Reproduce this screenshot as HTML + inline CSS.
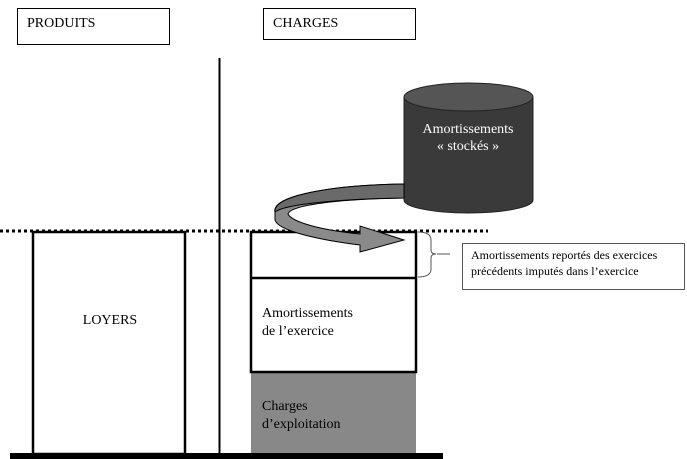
<!DOCTYPE html>
<html><head><style>
body{margin:0;background:#fff;}
svg{display:block;font-family:"Liberation Serif",serif;}
</style></head><body>
<svg width="687" height="459" viewBox="0 0 687 459">
<rect x="17.5" y="8.5" width="152" height="36" fill="#fff" stroke="#000"/>
<text x="27" y="27" font-size="14">PRODUITS</text>
<rect x="263.5" y="8.5" width="152" height="31" fill="#fff" stroke="#000"/>
<text x="273" y="27" font-size="14">CHARGES</text>
<line x1="219.5" y1="58" x2="219.5" y2="455" stroke="#000" stroke-width="2"/>
<line x1="0" y1="231" x2="488" y2="231" stroke="#000" stroke-width="3" stroke-dasharray="3,3"/>
<rect x="33" y="232" width="152" height="222" fill="#fff" stroke="#000" stroke-width="2.5"/>
<text x="110" y="324" font-size="14" text-anchor="middle">LOYERS</text>
<rect x="251" y="372" width="165" height="82" fill="#888"/>
<rect x="251" y="232" width="165" height="140" fill="none" stroke="#000" stroke-width="2.5"/>
<line x1="251" y1="278" x2="416" y2="278" stroke="#000" stroke-width="2.5"/>
<text x="262" y="317" font-size="14">Amortissements</text>
<text x="262" y="335" font-size="14">de l’exercice</text>
<text x="262" y="410" font-size="14">Charges</text>
<text x="262" y="428" font-size="14">d’exploitation</text>
<rect x="10" y="453" width="433" height="6" fill="#000"/>
<!-- cylinder -->
<path d="M404,97 L404,200 A64.5,13 0 0 0 533,200 L533,97 Z" fill="#3a3a3a" stroke="#222"/>
<ellipse cx="468.5" cy="97" rx="64.5" ry="14" fill="#555" stroke="#222"/>
<text x="468" y="133" font-size="14" fill="#fff" text-anchor="middle">Amortissements</text>
<text x="468" y="150" font-size="14" fill="#fff" text-anchor="middle">« stockés »</text>
<!-- curved arrow -->
<path d="M404,184 C330,185 272,196 275,212 L275,220 C278,231 320,240 360,245 L360,252 L404,240 L360,226 L360,234 C320,230 292,222 288,214 C290,205 340,199 404,198 Z" fill="#8a8a8a" stroke="#000" stroke-width="1"/>
<path d="M404,184 C330,185 272,196 275,212 C285,204 340,199 404,198 Z" fill="#6a6a6a" stroke="#000" stroke-width="1"/>
<!-- brace -->
<path d="M418,232 Q431,232 431,240 L431,250 Q431,254 436,254 Q431,254 431,258 L431,269 Q431,277 418,277" fill="none" stroke="#555"/>
<line x1="437" y1="254" x2="450" y2="254" stroke="#555"/>
<rect x="462.5" y="243.5" width="222" height="46" fill="#fff" stroke="#555"/>
<text x="471" y="259" font-size="12">Amortissements reportés des exercices</text>
<text x="471" y="275" font-size="12">précédents imputés dans l’exercice</text>
</svg>
</body></html>
